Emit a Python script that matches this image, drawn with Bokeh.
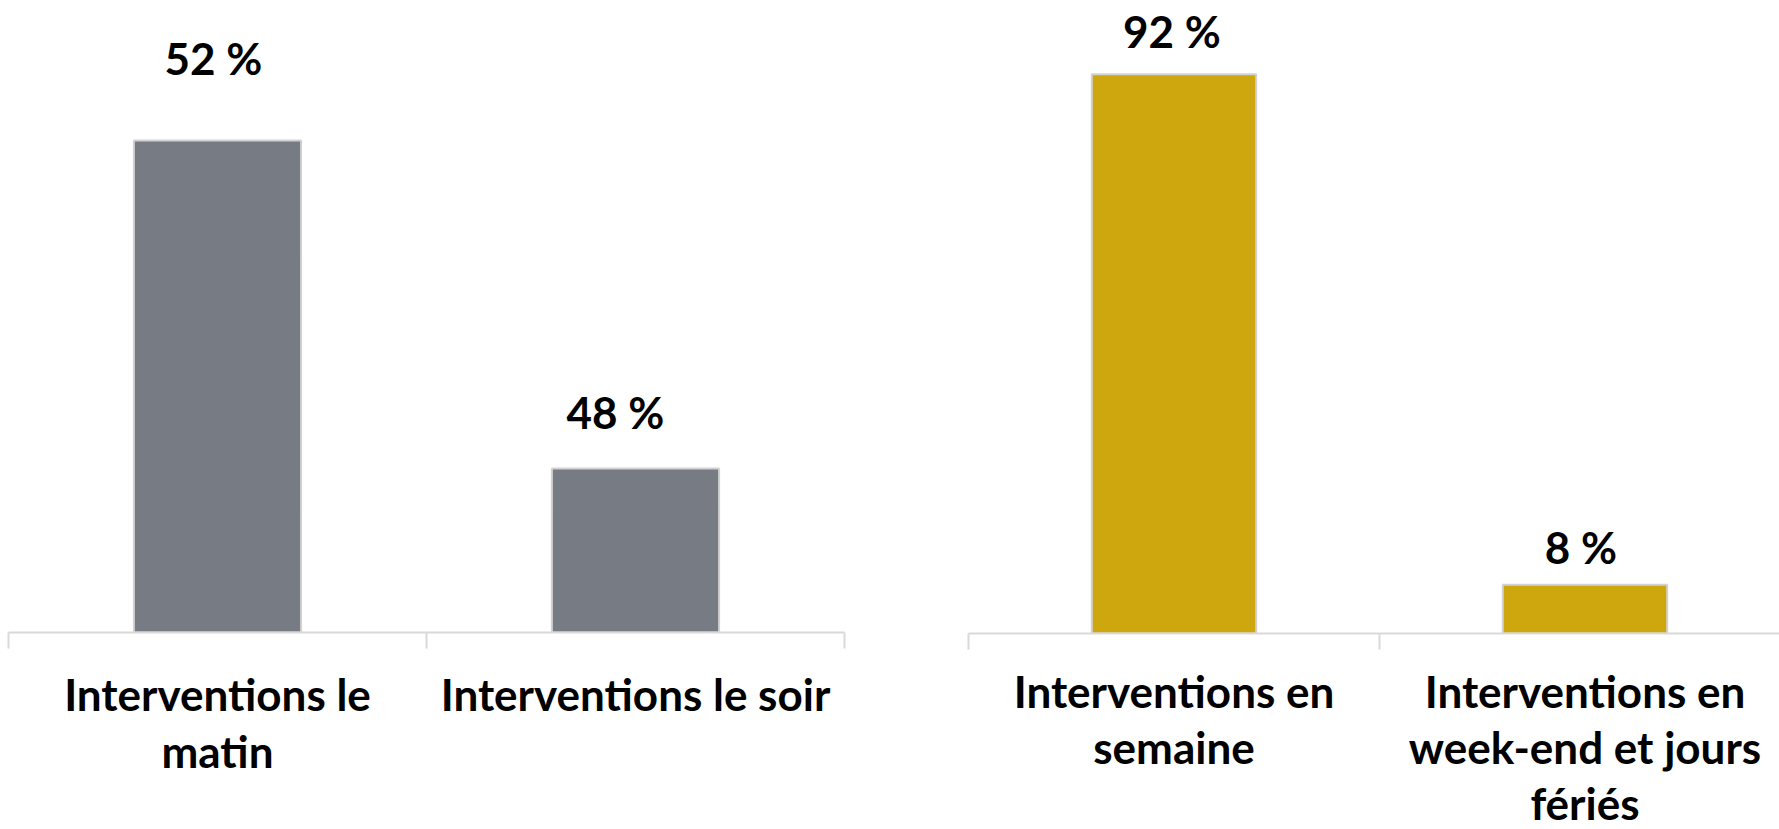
from bokeh.plotting import figure
from bokeh.models import Range1d, FixedTicker, LinearAxis, ColumnDataSource
from bokeh.layouts import row
from bokeh.core.properties import value
from bokeh.embed import file_html
from bokeh.resources import INLINE

# ---- data ----
left_categories = ["Interventions le\nmatin", "Interventions le soir"]
left_values = [52, 48]
right_categories = ["Interventions en\nsemaine", "Interventions en\nweek-end et jours\nfériés"]
right_values = [92, 8]

FONT = "Lato"
AXIS_COLOR = "#d9d9d9"


def make_chart(categories, values, color, y_start, y_end, x_end,
               frame_w, frame_h, border_l, border_r, border_b,
               label_dx, label_dy, standoff, line_height):
    n = len(categories)
    xs = [i + 0.5 for i in range(n)]
    src = ColumnDataSource(dict(
        x=xs, top=values, label=[f"{v} %" for v in values],
        dx=label_dx, dy=label_dy))
    p = figure(title=None, frame_width=frame_w, frame_height=frame_h,
               x_range=Range1d(0, x_end), y_range=Range1d(y_start, y_end),
               output_backend="svg", toolbar_location=None,
               x_axis_location=None, y_axis_location=None,
               min_border_left=border_l, min_border_right=border_r,
               min_border_top=8, min_border_bottom=border_b)
    p.outline_line_color = None
    p.xgrid.visible = False
    p.ygrid.visible = False
    p.background_fill_color = "white"
    p.border_fill_color = "white"

    p.vbar(x="x", top="top", bottom=y_start, width=0.4, source=src,
           fill_color=color, line_color="#d2d2d2", line_width=2)
    p.text(x="x", y="top", text="label", x_offset="dx", y_offset="dy",
           source=src, text_align="center", text_baseline="alphabetic",
           text_font=value(FONT), text_font_style="bold",
           text_font_size="44px", text_color="#000000")

    axis = LinearAxis(ticker=FixedTicker(ticks=xs, minor_ticks=list(range(n + 1))))
    axis.axis_line_color = AXIS_COLOR
    axis.axis_line_width = 2
    axis.major_tick_line_color = None
    axis.major_tick_in = 0
    axis.major_tick_out = 0
    axis.minor_tick_line_color = AXIS_COLOR
    axis.minor_tick_line_width = 2
    axis.minor_tick_in = 0
    axis.minor_tick_out = 16
    axis.major_label_overrides = {x: c for x, c in zip(xs, categories)}
    axis.major_label_text_font = FONT
    axis.major_label_text_font_style = "bold"
    axis.major_label_text_font_size = "44px"
    axis.major_label_text_color = "#000000"
    axis.major_label_text_line_height = line_height
    axis.major_label_standoff = standoff
    p.add_layout(axis, "below")
    return p


left = make_chart(left_categories, left_values, "#777b84",
                  46, 46 + 624 / 82.0, 2.0,
                  836, 624, 8, 60, 197,
                  [-4, -20], [-83, -57], 19, 1.1)

right = make_chart(right_categories, right_values, "#cda70d",
                   0, 625 / 6.08, 811 / 411.0,
                   811, 625, 64, 0, 188,
                   [-2, -4], [-43, -38], 15, 1.08)

layout = row(left, right)
open("out.html", "w").write(file_html(layout, INLINE))
